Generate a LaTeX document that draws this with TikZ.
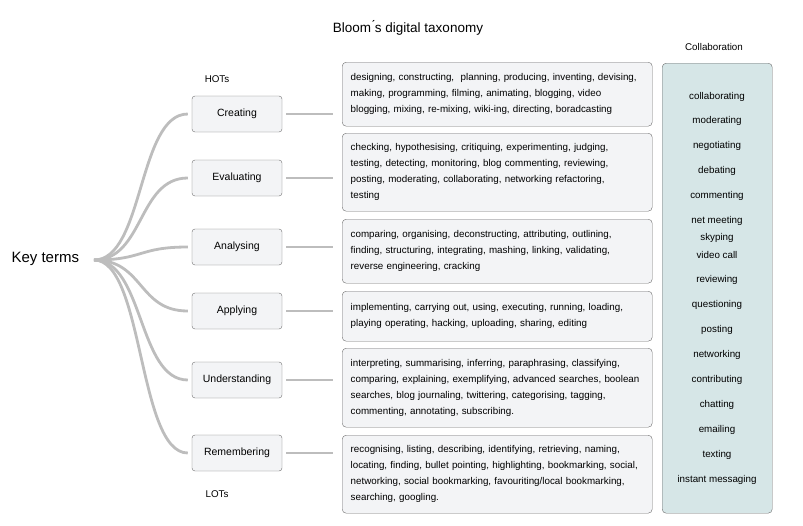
\documentclass[tikz,border=0pt]{standalone}
\usepackage{fontspec}
\setmainfont{Liberation Sans}
\usetikzlibrary{positioning}

\definecolor{boxfill}{HTML}{F3F4F6}
\definecolor{boxline}{HTML}{6E6E6E}
\definecolor{collfill}{HTML}{D6E6E7}
\definecolor{branch}{HTML}{BDBDBD}

\begin{document}
\begin{tikzpicture}[x=1pt,y=-1pt,
    level/.style={draw=boxline,fill=boxfill,rounded corners=3pt,
      minimum width=90pt,minimum height=36pt,font=\fontsize{10.5}{12}\selectfont},
    desc/.style={draw=boxline,fill=boxfill,rounded corners=4pt,anchor=north west,
      text width=293pt,inner xsep=8.5pt,align=left,
      font=\fontsize{9.8}{16}\selectfont},
    branchline/.style={draw=branch,line width=2.8pt},
    small/.style={font=\fontsize{9.8}{12}\selectfont}]
  \useasboundingbox (0,0) rectangle (803,525);

  \node (title) at (408,28) {\fontsize{13.5}{15}\selectfont Bloom\'{}s digital taxonomy};
  \node (key) [anchor=west] at (8,259) {\fontsize{15}{17}\selectfont Key terms};
  \coordinate (root) at (94,260);

  \node[small] (hots) at (217,79)  {HOTs};
  \node[small] (lots) at (217,494) {LOTs};

  \node[level] (C) at (237,114) {Creating};
  \node[level] (E) at (237,178) {Evaluating};
  \node[level] (A) at (237,247) {Analysing};
  \node[level] (P) at (237,311) {Applying};
  \node[level] (U) at (237,380) {Understanding};
  \node[level] (R) at (237,453) {Remembering};

  \node[desc,minimum height=64pt] (dC) at (342,62)
    {designing, constructing,\ \ planning, producing, inventing, devising,\\
     making, programming, filming, animating, blogging, video\\
     blogging, mixing, re-mixing, wiki-ing, directing, boradcasting};
  \node[desc,minimum height=78pt] (dE) at (342,133)
    {checking, hypothesising, critiquing, experimenting, judging,\\
     testing, detecting, monitoring, blog commenting, reviewing,\\
     posting, moderating, collaborating, networking refactoring,\\
     testing};
  \node[desc,minimum height=64pt] (dA) at (342,219)
    {comparing, organising, deconstructing, attributing, outlining,\\
     finding, structuring, integrating, mashing, linking, validating,\\
     reverse engineering, cracking};
  \node[desc,minimum height=50pt] (dP) at (342,291)
    {implementing, carrying out, using, executing, running, loading,\\
     playing operating, hacking, uploading, sharing, editing};
  \node[desc,minimum height=79pt] (dU) at (342,348)
    {interpreting, summarising, inferring, paraphrasing, classifying,\\
     comparing, explaining, exemplifying, advanced searches, boolean\\
     searches, blog journaling, twittering, categorising, tagging,\\
     commenting, annotating, subscribing.};
  \node[desc,minimum height=78pt] (dR) at (342,435)
    {recognising, listing, describing, identifying, retrieving, naming,\\
     locating, finding, bullet pointing, highlighting, bookmarking, social,\\
     networking, social bookmarking, favouriting/local bookmarking,\\
     searching, googling.};

  % collaboration column
  \node[small] (colltitle) at (714,47) {Collaboration};
  \node[draw=boxline,fill=collfill,rounded corners=4pt,anchor=north west,
        minimum width=110pt,minimum height=450pt] (coll) at (662,63) {};
  \foreach \word/\ypos [count=\i] in {collaborating/97,moderating/121,
      negotiating/146,debating/171,commenting/196,net meeting/221,
      skyping/238,video call/255,reviewing/280,questioning/305,posting/330,
      networking/355,contributing/380,chatting/405,emailing/430,texting/455,
      instant messaging/480}
    \node[small] (w\i) at (717,\ypos) {\word};

  % branches
  \foreach \lv in {C,E,A,P,U,R}{
    \path[branchline] (root) .. controls +(50,0) and +(-50,0) .. ([xshift=-4pt]\lv.west);
    \path[branchline] ([xshift=4pt]\lv.east) -- ([xshift=-9pt]\lv.east -| d\lv.west);
  }
\end{tikzpicture}
\end{document}
